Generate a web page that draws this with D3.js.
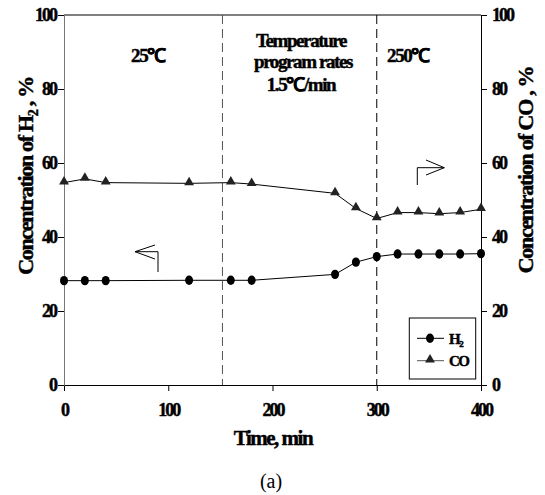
<!DOCTYPE html>
<html><head><meta charset="utf-8">
<script src="https://cdn.jsdelivr.net/npm/d3@7"></script>
<style>body{margin:0;background:#fff}svg{display:block}svg text{font-family:"Liberation Serif","Times New Roman",serif}svg text.b{stroke:#000;stroke-width:0.45px}</style>
</head><body>
<svg id="c" width="545" height="495"></svg>
<script>
const time = [0, 20, 40, 120, 160, 180, 260, 280, 300, 320, 340, 360, 380, 400];
const h2 = [28.2, 28.2, 28.2, 28.3, 28.3, 28.3, 29.9, 33.2, 34.7, 35.4, 35.4, 35.4, 35.4, 35.5];
const co = [54.7, 55.7, 54.7, 54.5, 54.7, 54.3, 51.8, 47.7, 45.0, 46.6, 46.6, 46.3, 46.6, 47.5];
const xTicks = [0, 100, 200, 300, 400];
const yTicks = [0, 20, 40, 60, 80, 100];
const dividers = [152, 300];

const svg = d3.select("#c");
const L = 64, R = 481, T = 15, B = 385;
const x = d3.scaleLinear().domain([0, 400]).range([L, R]);
const y = d3.scaleLinear().domain([0, 100]).range([B, T]);

svg.append("line").attr("x1", L).attr("x2", R).attr("y1", T).attr("y2", T).attr("stroke", "#000");

const ax = svg.append("g").attr("transform", `translate(0,${B})`)
  .call(d3.axisBottom(x).tickValues(xTicks).tickSize(6).tickPadding(12).tickFormat(d3.format("d")));
const ayl = svg.append("g").attr("transform", `translate(${L},0)`)
  .call(d3.axisLeft(y).tickValues(yTicks).tickSize(6).tickPadding(2));
const ayr = svg.append("g").attr("transform", `translate(${R},0)`)
  .call(d3.axisRight(y).tickValues(yTicks).tickSize(6).tickPadding(5));
[ax, ayl, ayr].forEach(g => {
  g.attr("font-family", null);
  g.select(".domain").attr("stroke", "#000");
  g.selectAll(".tick line").attr("stroke", "#000");
  g.selectAll("text").attr("class", "b").attr("font-weight", "bold")
    .attr("font-size", 18).attr("letter-spacing", -2).attr("fill", "#000");
});
ayl.select(".domain").attr("stroke", "#777");

dividers.forEach((d, i) => {
  svg.append("line").attr("x1", x(d)).attr("x2", x(d)).attr("y1", T).attr("y2", B)
    .attr("stroke", i === 0 ? "#555" : "#000").attr("stroke-dasharray", "9,5");
});

const line = d3.line().x((d, i) => x(time[i])).y(d => y(d));
svg.append("path").datum(h2).attr("d", line).attr("fill", "none").attr("stroke", "#000").attr("stroke-width", 1);
svg.append("path").datum(co).attr("d", line).attr("fill", "none").attr("stroke", "#000").attr("stroke-width", 1);
svg.selectAll(".h2").data(h2).enter().append("ellipse")
  .attr("cx", (d, i) => x(time[i])).attr("cy", d => y(d)).attr("rx", 4).attr("ry", 4.7).attr("fill", "#000");
const tri = d3.symbol().type(d3.symbolTriangle).size(42);
svg.selectAll(".co").data(co).enter().append("path")
  .attr("d", tri).attr("transform", (d, i) => `translate(${x(time[i])},${y(d) - 1})`).attr("fill", "#222");

const ann = svg.append("g").attr("font-weight", "bold").attr("font-size", 19).attr("text-anchor", "middle").attr("letter-spacing", -1.4);
ann.append("text").attr("class", "b").attr("x", 148).attr("y", 62).text("25℃");
ann.append("text").attr("class", "b").attr("x", 301).attr("y", 47).text("Temperature");
ann.append("text").attr("class", "b").attr("x", 303).attr("y", 68).text("program rates");
ann.append("text").attr("class", "b").attr("x", 301).attr("y", 91).text("1.5℃/min");
ann.append("text").attr("class", "b").attr("x", 408).attr("y", 62).text("250℃");

svg.append("path").attr("d", "M158,272V251.7H135M135,251.7L155,245M135,251.7L155,259")
  .attr("fill", "none").attr("stroke", "#000").attr("stroke-width", 1);
svg.append("path").attr("d", "M417.3,185V167.7H444.3M444.3,167.7L426,160M444.3,167.7L426,175")
  .attr("fill", "none").attr("stroke", "#000").attr("stroke-width", 1);

svg.append("text").attr("class", "b").attr("transform", "translate(33,176) rotate(-90)").attr("text-anchor", "middle")
  .attr("font-weight", "bold").attr("font-size", 22).attr("letter-spacing", -1.3)
  .html('Concentration of H<tspan font-size="14" dy="5">2</tspan><tspan dy="-5"> , %</tspan>');
svg.append("text").attr("class", "b").attr("transform", "translate(533,170) rotate(-90)").attr("text-anchor", "middle")
  .attr("font-weight", "bold").attr("font-size", 22).attr("letter-spacing", -1.3)
  .text("Concentration of CO , %");
svg.append("text").attr("class", "b").attr("x", 273).attr("y", 445).attr("text-anchor", "middle")
  .attr("font-weight", "bold").attr("font-size", 21).attr("letter-spacing", -1.5).text("Time, min");
svg.append("text").attr("x", 271).attr("y", 488).attr("text-anchor", "middle")
  .attr("font-size", 20).text("(a)");

const lg = svg.append("g");
lg.append("rect").attr("x", 409.3).attr("y", 318).attr("width", 66.4).attr("height", 61)
  .attr("fill", "#fff").attr("stroke", "#000");
lg.append("line").attr("x1", 417).attr("x2", 444).attr("y1", 338.3).attr("y2", 338.3).attr("stroke", "#000");
lg.append("ellipse").attr("cx", 430).attr("cy", 338.3).attr("rx", 4).attr("ry", 4.7).attr("fill", "#000");
lg.append("text").attr("class", "b").attr("x", 449).attr("y", 343.5).attr("font-weight", "bold").attr("font-size", 15).attr("letter-spacing", -1.5)
  .html('H<tspan font-size="9" dy="3">2</tspan>');
lg.append("line").attr("x1", 417).attr("x2", 444).attr("y1", 360.7).attr("y2", 360.7).attr("stroke", "#555");
lg.append("path").attr("d", tri).attr("transform", "translate(430,359.7)").attr("fill", "#222");
lg.append("text").attr("class", "b").attr("x", 449).attr("y", 366).attr("font-weight", "bold").attr("font-size", 15).attr("letter-spacing", -1.5).text("CO");
</script>
</body></html>
